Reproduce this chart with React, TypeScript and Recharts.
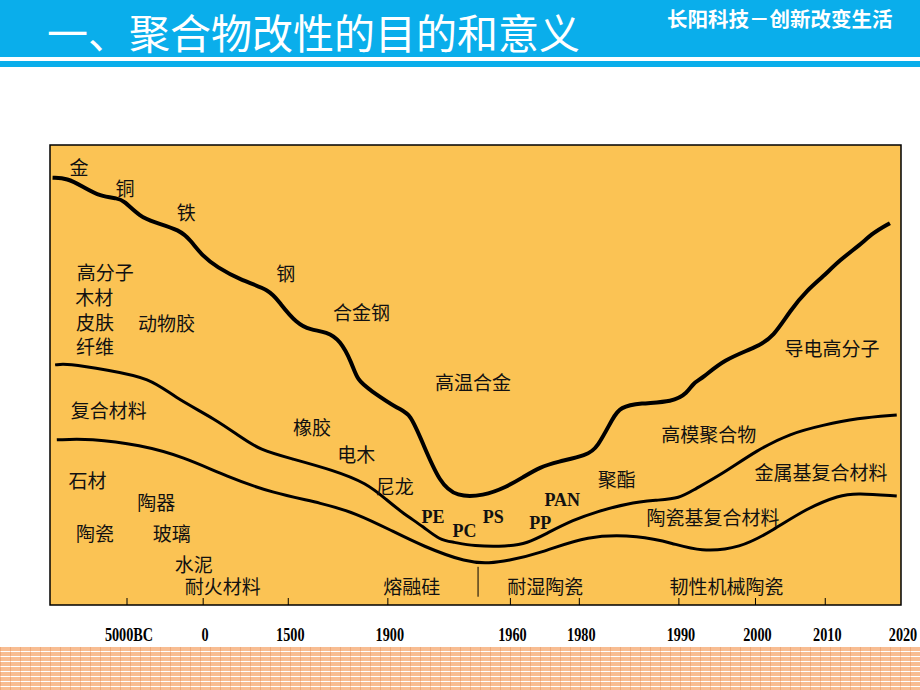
import React from 'react';
import { LineChart, Line, XAxis, YAxis, CartesianGrid, ReferenceArea, ReferenceDot, ReferenceLine } from 'recharts';

// Era axis: positions along the (non-linear) time line, 0..100
const TICKS = [9.05, 18.0, 28.0, 39.7, 54.1, 62.2, 73.9, 82.9, 91.1, 100];
const YEAR_LABELS = ['5000BC', '0', '1500', '1900', '1960', '1980', '1990', '2000', '2010', '2020'];

// Relative importance of the material classes (0..100)
const METALS = [
  { t: 0.3, v: 92.9 }, { t: 2.0, v: 92.8 }, { t: 3.9, v: 90.9 }, { t: 5.9, v: 88.8 },
  { t: 8.0, v: 88.4 }, { t: 8.6, v: 88.0 }, { t: 10.6, v: 84.4 }, { t: 12.1, v: 83.3 },
  { t: 15.3, v: 81.5 }, { t: 16.5, v: 79.3 }, { t: 18.0, v: 75.7 }, { t: 19.6, v: 73.5 },
  { t: 22.3, v: 70.7 }, { t: 25.9, v: 68.5 }, { t: 27.0, v: 65.6 }, { t: 29.0, v: 61.2 },
  { t: 30.6, v: 59.8 }, { t: 32.5, v: 59.4 }, { t: 34.1, v: 57.6 }, { t: 35.5, v: 52.5 },
  { t: 36.1, v: 48.9 }, { t: 37.6, v: 46.7 }, { t: 41.1, v: 42.4 }, { t: 42.3, v: 41.7 },
  { t: 43.8, v: 35.2 }, { t: 45.8, v: 26.5 }, { t: 47.8, v: 23.5 }, { t: 50.9, v: 23.7 },
  { t: 53.7, v: 25.7 }, { t: 55.6, v: 27.8 }, { t: 57.6, v: 30.0 }, { t: 59.6, v: 31.1 },
  { t: 63.1, v: 32.6 }, { t: 64.3, v: 34.1 }, { t: 66.2, v: 40.9 }, { t: 67.0, v: 43.0 },
  { t: 69.3, v: 43.9 }, { t: 73.2, v: 44.1 }, { t: 74.9, v: 46.1 }, { t: 75.6, v: 48.3 },
  { t: 76.7, v: 49.3 }, { t: 79.1, v: 53.3 }, { t: 83.1, v: 56.1 }, { t: 85.0, v: 58.3 },
  { t: 87.0, v: 64.1 }, { t: 89.0, v: 68.5 }, { t: 90.8, v: 71.3 }, { t: 92.8, v: 75.0 },
  { t: 95.2, v: 78.3 }, { t: 96.7, v: 80.9 }, { t: 98.7, v: 83.0 },
];

const POLYMERS = [
  { t: 0.6, v: 52.2 }, { t: 2.0, v: 52.5 }, { t: 6.7, v: 51.1 }, { t: 11.8, v: 49.3 },
  { t: 14.5, v: 45.3 }, { t: 19.6, v: 40.2 }, { t: 22.3, v: 36.6 }, { t: 24.7, v: 33.7 },
  { t: 28.2, v: 31.9 }, { t: 33.3, v: 29.3 }, { t: 37.2, v: 26.5 }, { t: 39.6, v: 22.8 },
  { t: 41.5, v: 19.9 }, { t: 43.9, v: 17.0 }, { t: 45.8, v: 14.1 }, { t: 47.4, v: 13.7 },
  { t: 49.7, v: 12.8 }, { t: 53.7, v: 12.7 }, { t: 56.1, v: 13.4 }, { t: 58.4, v: 15.6 },
  { t: 61.5, v: 18.5 }, { t: 64.3, v: 20.3 }, { t: 67.8, v: 22.1 }, { t: 71.3, v: 22.8 },
  { t: 74.0, v: 23.2 }, { t: 75.6, v: 25.0 }, { t: 79.1, v: 28.6 }, { t: 83.1, v: 33.7 },
  { t: 87.0, v: 37.3 }, { t: 90.8, v: 39.1 }, { t: 94.8, v: 40.6 }, { t: 99.5, v: 41.3 },
];

const CERAMICS = [
  { t: 0.8, v: 35.9 }, { t: 4.7, v: 36.2 }, { t: 10.6, v: 34.8 }, { t: 15.7, v: 32.2 },
  { t: 20.8, v: 27.9 }, { t: 26.2, v: 24.3 }, { t: 32.1, v: 22.1 }, { t: 36.0, v: 19.9 },
  { t: 40.0, v: 16.3 }, { t: 43.9, v: 12.7 }, { t: 49.0, v: 9.2 }, { t: 51.7, v: 9.1 },
  { t: 53.7, v: 9.6 }, { t: 57.6, v: 11.2 }, { t: 63.1, v: 15.2 }, { t: 69.3, v: 15.1 },
  { t: 73.2, v: 13.4 }, { t: 76.4, v: 11.6 }, { t: 81.1, v: 12.3 }, { t: 85.0, v: 16.3 },
  { t: 88.9, v: 21.0 }, { t: 92.8, v: 23.9 }, { t: 94.8, v: 24.3 }, { t: 99.5, v: 23.7 },
];

// annotations placed in data coordinates
const CN_LABELS = [
  { text: '金', t: 3.4, v: 95.3 },
  { text: '铜', t: 8.8, v: 90.7 },
  { text: '铁', t: 16.0, v: 85.5 },
  { text: '高分子', t: 6.5, v: 72.6 },
  { text: '木材', t: 5.2, v: 67.1 },
  { text: '皮肤', t: 5.3, v: 61.6 },
  { text: '动物胶', t: 13.7, v: 61.4 },
  { text: '纤维', t: 5.3, v: 56.5 },
  { text: '钢', t: 27.7, v: 72.2 },
  { text: '合金钢', t: 36.6, v: 63.8 },
  { text: '导电高分子', t: 91.9, v: 56.0 },
  { text: '高温合金', t: 49.7, v: 48.6 },
  { text: '复合材料', t: 6.9, v: 42.4 },
  { text: '橡胶', t: 30.8, v: 38.8 },
  { text: '电木', t: 36.0, v: 33.0 },
  { text: '尼龙', t: 40.5, v: 25.9 },
  { text: '聚酯', t: 66.6, v: 27.5 },
  { text: '高模聚合物', t: 77.4, v: 37.3 },
  { text: '金属基复合材料', t: 90.6, v: 29.0 },
  { text: '陶瓷基复合材料', t: 77.9, v: 19.2 },
  { text: '石材', t: 4.4, v: 27.3 },
  { text: '陶器', t: 12.5, v: 22.5 },
  { text: '陶瓷', t: 5.3, v: 15.8 },
  { text: '玻璃', t: 14.3, v: 15.8 },
  { text: '水泥', t: 16.9, v: 9.1 },
  { text: '耐火材料', t: 20.3, v: 4.3 },
  { text: '熔融硅', t: 42.5, v: 4.2 },
  { text: '耐湿陶瓷', t: 58.2, v: 4.3 },
  { text: '韧性机械陶瓷', t: 79.5, v: 4.3 },
];

const EN_LABELS = [
  { text: 'PE', t: 45.0, v: 19.2 },
  { text: 'PC', t: 48.7, v: 16.0 },
  { text: 'PS', t: 52.1, v: 19.2 },
  { text: 'PP', t: 57.6, v: 17.8 },
  { text: 'PAN', t: 60.2, v: 22.8 },
];

const CJK = '"Noto Sans CJK SC", sans-serif';
const SERIF = '"Liberation Serif", "Times New Roman", serif';

// inward tick + stretched serif label under the box
const YearTick = (props: any) => {
  const { x, y, index } = props;
  const last = index === YEAR_LABELS.length - 1;
  return (
    <g>
      {!last && <line x1={x} y1={y - 7} x2={x} y2={y} stroke="#000" strokeWidth={1} />}
      <text transform={`translate(${x + 2},${y + 36}) scale(0.95,1.25)`} textAnchor="middle"
        fontFamily={SERIF} fontWeight="bold" fontSize={15} fill="#000">
        {YEAR_LABELS[index]}
      </text>
    </g>
  );
};

const textShape = (text: string, font: string, size: number, weight: string) => (p: any) => (
  <text x={p.cx} y={p.cy} textAnchor="middle" dominantBaseline="central" fontFamily={font}
    fontSize={size} fontWeight={weight} fill="#111">
    {text}
  </text>
);

export default function App() {
  return (
    <div style={{ position: 'absolute', left: 0, top: 0, width: 920, height: 690, background: '#fff', overflow: 'hidden' }}>
      {/* header */}
      <div style={{ position: 'absolute', left: 0, top: 0, width: 920, height: 57, background: '#0AAEEB' }} />
      <div style={{ position: 'absolute', left: 0, top: 61, width: 920, height: 6, background: '#0AAEEB' }} />
      <div style={{ position: 'absolute', left: 47, top: 9, fontFamily: CJK, fontSize: 41, lineHeight: '44px', color: '#fff', whiteSpace: 'nowrap' }}>
        一、聚合物改性的目的和意义
      </div>
      <div style={{ position: 'absolute', left: 667, top: 8, fontFamily: CJK, fontSize: 20.5, lineHeight: '20px', fontWeight: 'bold', color: '#fff', whiteSpace: 'nowrap' }}>
        长阳科技－创新改变生活
      </div>

      {/* footer stripes */}
      <div style={{
        position: 'absolute', left: 0, top: 647, width: 920, height: 43,
        background: 'repeating-linear-gradient(to right, rgba(225,130,70,0.35) 0 1px, transparent 1px 10px), repeating-linear-gradient(to bottom, #F8BD92 0 3.5px, #fff 3.5px 5px)',
      }} />

      <div style={{ position: 'absolute', left: 0, top: 0 }}>
        <LineChart width={920} height={690} margin={{ top: 145, right: 19, left: 50, bottom: 55 }}>
          <CartesianGrid horizontal={false} vertical={false} fill="#FBC354" fillOpacity={1} />
          <XAxis dataKey="t" type="number" domain={[0, 100]} ticks={TICKS} interval={0} height={30}
            axisLine={false} tickLine={false} tickSize={0} tickMargin={0} tick={<YearTick />} />
          <YAxis type="number" domain={[0, 100]} hide />
          <ReferenceArea x1={0} x2={100} y1={0} y2={100} fill="none" stroke="#000" strokeWidth={1.5} />
          <ReferenceLine segment={[{ x: 50.3, y: 1.8 }, { x: 50.3, y: 8.3 }]} stroke="#000" strokeWidth={1} />
          <Line data={METALS} dataKey="v" type="basis" stroke="#000" strokeWidth={4} dot={false} isAnimationActive={false} />
          <Line data={POLYMERS} dataKey="v" type="basis" stroke="#000" strokeWidth={3} dot={false} isAnimationActive={false} />
          <Line data={CERAMICS} dataKey="v" type="basis" stroke="#000" strokeWidth={3} dot={false} isAnimationActive={false} />
          {CN_LABELS.map((d) => (
            <ReferenceDot key={d.text} x={d.t} y={d.v} r={0} shape={textShape(d.text, CJK, 19, 'normal')} />
          ))}
          {EN_LABELS.map((d) => (
            <ReferenceDot key={d.text} x={d.t} y={d.v} r={0} shape={textShape(d.text, SERIF, 18, 'bold')} />
          ))}
        </LineChart>
      </div>
    </div>
  );
}
